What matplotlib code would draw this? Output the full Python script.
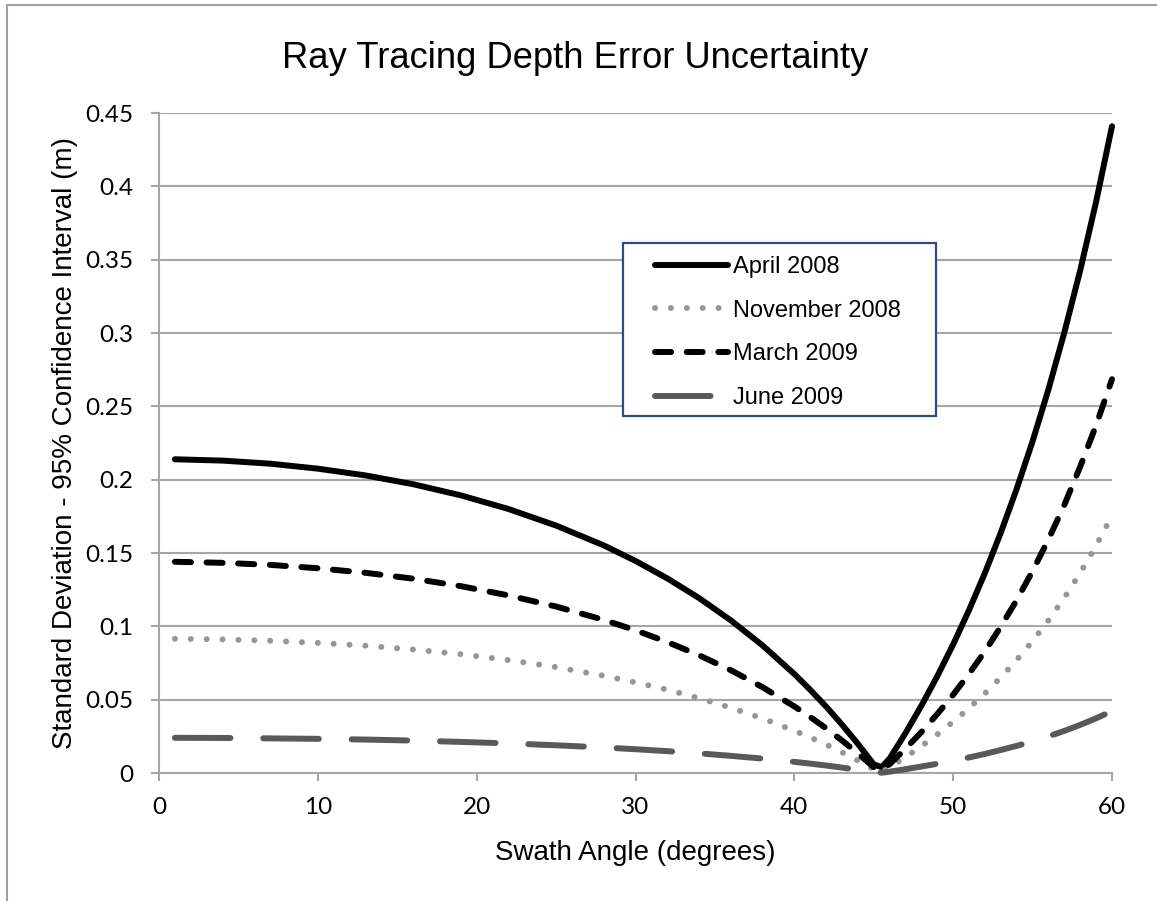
import matplotlib
matplotlib.use("Agg")
import matplotlib.pyplot as plt
from matplotlib.lines import Line2D
from matplotlib.patches import Rectangle
from matplotlib.ticker import FuncFormatter

# Swath angles (degrees) at which the depth error uncertainty is tabulated
angles = [1, 4, 7, 10, 13, 16, 19, 22, 25, 28, 30, 32, 34, 36, 38, 40, 41, 42,
          43, 44, 45, 45.5, 46, 47, 48, 49, 50, 51, 52, 53, 54, 55, 56, 57, 58,
          59, 60]

# Standard deviation, 95% confidence interval (m)
april_2008 = [0.2139, 0.2130, 0.2109, 0.2075, 0.2029, 0.1969, 0.1893, 0.1800,
              0.1687, 0.1552, 0.1446, 0.1327, 0.1193, 0.1041, 0.0870, 0.0675,
              0.0567, 0.0453, 0.0330, 0.0199, 0.0059, 0.0040, 0.0099, 0.0272,
              0.0459, 0.0660, 0.0877, 0.1111, 0.1364, 0.1639, 0.1937, 0.2262,
              0.2616, 0.3004, 0.3428, 0.3895, 0.4410]
november_2008 = [0.0915, 0.0911, 0.0902, 0.0887, 0.0868, 0.0842, 0.0810, 0.0770,
                 0.0722, 0.0663, 0.0618, 0.0568, 0.0510, 0.0445, 0.0372, 0.0288,
                 0.0243, 0.0194, 0.0141, 0.0085, 0.0025, 0.0006, 0.0039, 0.0108,
                 0.0183, 0.0263, 0.0349, 0.0442, 0.0543, 0.0652, 0.0771, 0.0900,
                 0.1041, 0.1195, 0.1364, 0.1550, 0.1755]
march_2009 = [0.1440, 0.1433, 0.1419, 0.1396, 0.1365, 0.1325, 0.1274, 0.1211,
              0.1135, 0.1044, 0.0973, 0.0893, 0.0803, 0.0701, 0.0585, 0.0454,
              0.0382, 0.0305, 0.0222, 0.0134, 0.0040, 0.0030, 0.0060, 0.0166,
              0.0279, 0.0402, 0.0534, 0.0676, 0.0830, 0.0998, 0.1179, 0.1377,
              0.1593, 0.1828, 0.2089, 0.2371, 0.2685]
june_2009 = [0.0240, 0.0239, 0.0236, 0.0233, 0.0228, 0.0221, 0.0212, 0.0202,
             0.0189, 0.0174, 0.0162, 0.0149, 0.0134, 0.0117, 0.0098, 0.0076,
             0.0064, 0.0051, 0.0037, 0.0022, 0.0007, 0.0002, 0.0009, 0.0026,
             0.0044, 0.0063, 0.0084, 0.0106, 0.0130, 0.0157, 0.0185, 0.0216,
             0.0250, 0.0287, 0.0328, 0.0373, 0.0422]

x_ticks = [0, 10, 20, 30, 40, 50, 60]
y_ticks = [0, 0.05, 0.1, 0.15, 0.2, 0.25, 0.3, 0.35, 0.4, 0.45]

title = "Ray Tracing Depth Error Uncertainty"
x_label = "Swath Angle (degrees)"
y_label = "Standard Deviation - 95% Confidence Interval (m)"

W, H = 1157, 901
TICK_FONT = ["Lato", "DejaVu Sans"]
ARIAL = ["Liberation Sans", "DejaVu Sans"]
GRID = "#a6a6a6"


def fx(px):
    return px / W


def fy(py):
    return 1 - py / H


fig = plt.figure(figsize=(W / 100, H / 100), dpi=100)
fig.patch.set_facecolor("white")

# outer chart border (left and top edges)
fig.add_artist(Line2D([fx(7), fx(7), 1.0], [0.0, fy(5), fy(5)],
                      transform=fig.transFigure, color="#a0a0a0", lw=1.5))

ax = fig.add_axes([fx(159), fy(773), fx(1112) - fx(159), fy(113) - fy(773)])
ax.set_xlim(0, 60)
ax.set_ylim(0, 0.45)
ax.set_xticks(x_ticks)
ax.set_yticks(y_ticks)
ax.yaxis.set_major_formatter(FuncFormatter(lambda v, p: f"{v:g}"))
ax.grid(axis="y", color=GRID, lw=1.5, zorder=0)
ax.set_axisbelow(True)
for side in ("top", "right"):
    ax.spines[side].set_visible(False)
for side in ("left", "bottom"):
    ax.spines[side].set_color(GRID)
    ax.spines[side].set_linewidth(1.5)
ax.tick_params(axis="both", direction="out", length=6, width=1.5, color=GRID,
               labelsize=17.5, labelcolor="black")
ax.tick_params(axis="y", pad=12.5)
ax.tick_params(axis="x", pad=11)
for lbl in ax.get_xticklabels() + ax.get_yticklabels():
    lbl.set_family(TICK_FONT)

lw = 4.3
common = dict(lw=lw, clip_on=False, zorder=3, solid_capstyle="round",
              dash_capstyle="round")
ax.plot(angles, april_2008, color="black", label="April 2008", **common)
ax.plot(angles, november_2008, color="#969696", linestyle=(0, (0.01, 2.65)),
        label="November 2008", **common)
ax.plot(angles, march_2009, color="black", linestyle=(0, (2.7, 2.6)),
        label="March 2009", **common)
ax.plot(angles, june_2009, color="#595959", linestyle=(0, (9.3, 5.5)),
        label="June 2009", **common)

# legend box
ax.add_patch(Rectangle((fx(623), fy(416)), fx(936) - fx(623), fy(243) - fy(416),
                       transform=fig.transFigure, clip_on=False, facecolor="white",
                       edgecolor="#2b4c86", lw=1.6, zorder=4))
leg = ax.legend(loc="center left", bbox_to_anchor=(fx(655), fy(332.5)),
                bbox_transform=fig.transFigure, prop={"family": ARIAL, "size": 17},
                frameon=False, handlelength=3.1, handletextpad=0.2,
                labelspacing=0.92, borderpad=0, borderaxespad=0)
leg.set_zorder(5)

fig.text(fx(282), fy(68), title, ha="left", va="baseline",
         fontsize=26.2, family=ARIAL)
fig.text(fx(495), fy(860), x_label, ha="left", va="baseline",
         fontsize=20, family=ARIAL)
fig.text(fx(72), fy(443), y_label, ha="center", va="baseline",
         rotation=90, rotation_mode="anchor", fontsize=20, family=ARIAL)

fig.savefig("out.png", dpi=100)
